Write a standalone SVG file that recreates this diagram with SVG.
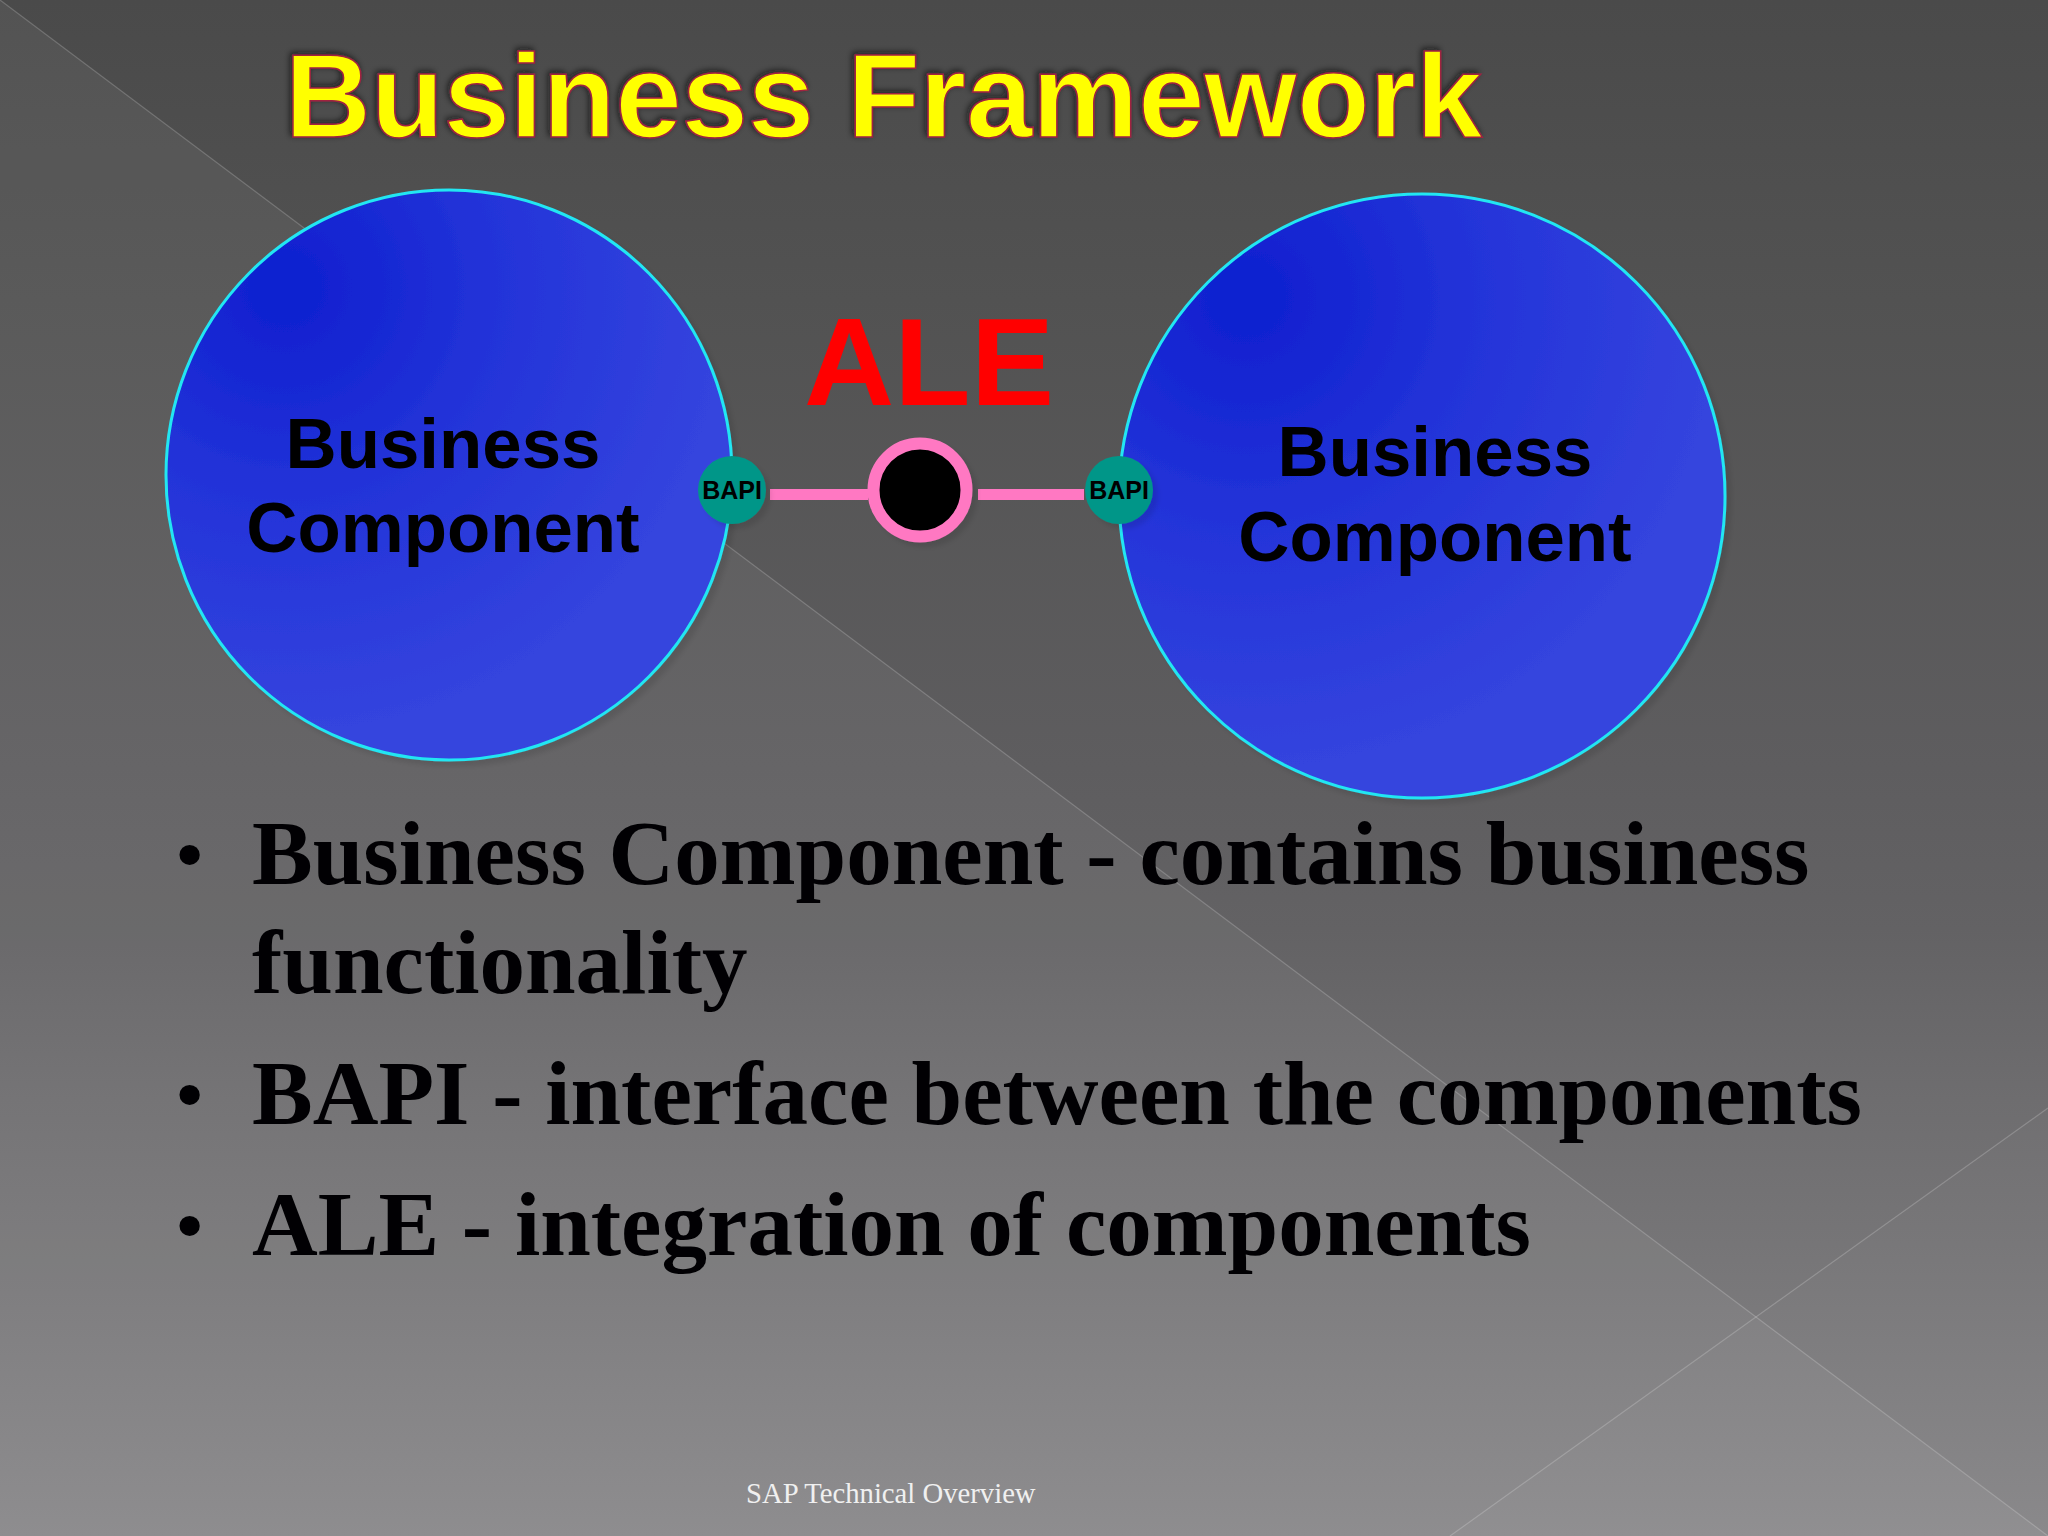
<svg xmlns="http://www.w3.org/2000/svg" width="2048" height="1536" viewBox="0 0 2048 1536">
<style>
.sans{font-family:"Liberation Sans",Arial,sans-serif;font-weight:700}
.serif{font-family:"Liberation Serif","Times New Roman",serif}
.lbl{font-size:70.8px;fill:#000;text-anchor:middle}
.bapi{font-size:25px;fill:#000;text-anchor:middle}
.bul{font-size:91px;font-weight:700;fill:#010003}
.dot{font-size:75px;font-weight:700;fill:#010003}
.teal{fill:#009688}
.comp{stroke:#22e6f2;stroke-width:3;filter:url(#sh)}
.bgline{stroke:#fff;stroke-opacity:.2;stroke-width:1.2;fill:none}
</style>
<defs>
<linearGradient id="bg" x1="0" y1="0" x2="0" y2="1">
<stop offset="0" stop-color="#4a4a4a"/><stop offset="0.195" stop-color="#525252"/><stop offset="0.5" stop-color="#5e5d5f"/><stop offset="0.605" stop-color="#636264"/><stop offset="0.716" stop-color="#6e6d6f"/><stop offset="0.81" stop-color="#767577"/><stop offset="1" stop-color="#888789"/>
</linearGradient>
<radialGradient id="blue" cx="0.21" cy="0.17" r="0.78">
<stop offset="0.06" stop-color="#1021d0"/><stop offset="0.5" stop-color="#2434d9"/><stop offset="1" stop-color="#3444de"/>
</radialGradient>
<filter id="sh" x="-10%" y="-10%" width="125%" height="125%"><feDropShadow dx="5" dy="5" stdDeviation="2.5" flood-color="#000" flood-opacity="0.1"/></filter>
<filter id="ts" x="-5%" y="-15%" width="110%" height="130%"><feDropShadow dx="-2" dy="-2" stdDeviation="3" flood-color="#111" flood-opacity="0.7"/></filter>
</defs>
<g id="background">
<rect width="2048" height="1536" fill="url(#bg)"/>
<polygon points="0,0 2048,1536 0,1536" fill="#fff" opacity="0.05"/>
<polygon points="1450,1536 2048,1108 2048,1536" fill="#fff" opacity="0.02"/>
<line class="bgline" x1="0" y1="0" x2="2048" y2="1536"/>
<line class="bgline" x1="1450" y1="1536" x2="2048" y2="1108" stroke-opacity=".3"/>
</g>
<text id="title" class="sans" x="285" y="137" font-size="119" fill="#ff0" stroke="#a02040" stroke-width="1.5" filter="url(#ts)">Business Framework</text>
<g id="connectors">
<rect x="770" y="489" width="98" height="11" fill="#ff78c2"/>
<rect x="978" y="489" width="106" height="11" fill="#ff78c2"/>
</g>
<g id="component-left">
<ellipse class="comp" fill="url(#blue)" cx="449" cy="475" rx="283" ry="285"/>
<text class="sans lbl" x="443" y="468">Business</text>
<text class="sans lbl" x="443" y="552">Component</text>
</g>
<g id="component-right">
<ellipse class="comp" fill="url(#blue)" cx="1422" cy="496" rx="303" ry="302"/>
<text class="sans lbl" x="1435" y="476">Business</text>
<text class="sans lbl" x="1435" y="561">Component</text>
</g>
<g id="bapi-left">
<circle class="teal" cx="732" cy="490" r="34" filter="url(#sh)"/>
<text class="sans bapi" x="732" y="499">BAPI</text>
</g>
<g id="bapi-right">
<circle class="teal" cx="1119" cy="490" r="34" filter="url(#sh)"/>
<text class="sans bapi" x="1119" y="499">BAPI</text>
</g>
<g id="ale">
<text class="sans" x="804" y="405" font-size="125" fill="#f00">ALE</text>
<circle cx="920" cy="490" r="46.5" fill="#000" stroke="#ff78c2" stroke-width="12" filter="url(#sh)"/>
</g>
<g id="bullets" class="serif">
<text class="dot" x="176.5" y="880">•</text>
<text class="bul" x="252" y="884">Business Component - contains business</text>
<text class="bul" x="252" y="993">functionality</text>
<text class="dot" x="176.5" y="1120">•</text>
<text class="bul" x="252" y="1124">BAPI - interface between the components</text>
<text class="dot" x="176.5" y="1251">•</text>
<text class="bul" x="252" y="1255">ALE - integration of components</text>
</g>
<text id="footer" class="serif" x="746" y="1503" font-size="28.7" fill="#f0f0f0">SAP Technical Overview</text>
</svg>
